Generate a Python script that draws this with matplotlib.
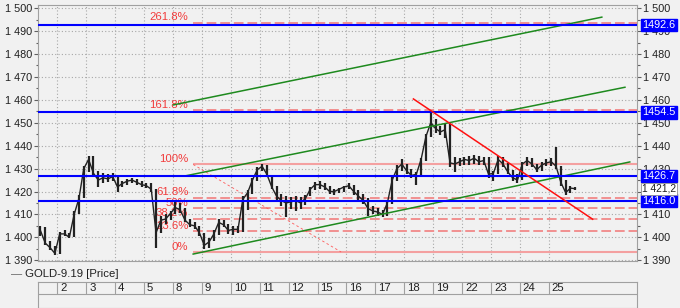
import numpy as np
import matplotlib.pyplot as plt
from matplotlib.ticker import MultipleLocator, FuncFormatter

plt.rcParams['font.family'] = ['Liberation Sans', 'DejaVu Sans']
plt.rcParams['font.size'] = 7.5

# trading days shown on the time strip (first day is only partly visible)
day_labels = ['2', '3', '4', '5', '8', '9', '10', '11', '12', '15', '16', '17',
              '18', '19', '22', '23', '24', '25']
bars_per_day = 6
first_day_bars = 4

# GOLD-9.19 price bars
bar_high = [1404.8, 1404.5, 1398.5, 1396.0, 1402.5, 1403.0, 1402.0, 1411.5, 1418.5, 1431.0,
            1435.5, 1435.5, 1429.0, 1428.0, 1427.5, 1428.0, 1427.0, 1424.5, 1425.5, 1426.0,
            1425.5, 1424.5, 1423.5, 1423.5, 1421.0, 1409.5, 1410.0, 1411.5, 1415.5, 1415.0,
            1413.0, 1408.0, 1406.5, 1405.0, 1402.0, 1399.5, 1403.0, 1408.0, 1407.5, 1406.0,
            1405.0, 1405.0, 1418.0, 1420.5, 1426.0, 1430.5, 1432.0, 1431.5, 1427.0, 1422.5,
            1419.0, 1418.0, 1417.5, 1418.0, 1417.5, 1418.5, 1422.0, 1424.0, 1424.5, 1423.5,
            1422.5, 1421.0, 1421.5, 1422.5, 1423.5, 1423.0, 1420.5, 1419.0, 1417.0, 1413.5,
            1413.0, 1412.0, 1416.0, 1426.5, 1431.5, 1434.0, 1432.0, 1430.0, 1428.5, 1434.5,
            1445.0, 1455.0, 1451.5, 1448.5, 1449.5, 1449.5, 1435.0, 1434.5, 1435.0, 1435.5,
            1436.0, 1435.5, 1435.0, 1435.0, 1429.0, 1435.5, 1435.0, 1432.5, 1429.5, 1427.5,
            1433.0, 1435.0, 1434.5, 1432.0, 1433.0, 1434.0, 1434.5, 1439.5, 1431.0, 1425.0,
            1422.5, 1422.0]
bar_low = [1400.5, 1396.5, 1394.5, 1392.4, 1392.8, 1400.5, 1399.5, 1400.0, 1410.0, 1417.0,
           1428.5, 1427.0, 1422.0, 1423.5, 1424.0, 1424.5, 1420.0, 1422.0, 1423.0, 1423.5,
           1423.0, 1422.0, 1421.5, 1420.0, 1395.5, 1402.0, 1406.0, 1407.5, 1410.0, 1410.5,
           1406.5, 1404.5, 1403.5, 1400.5, 1394.8, 1395.5, 1398.5, 1401.0, 1404.5, 1401.5,
           1401.0, 1402.0, 1402.5, 1412.0, 1419.0, 1424.5, 1429.0, 1426.5, 1421.0, 1416.5,
           1413.5, 1409.0, 1412.5, 1411.5, 1412.5, 1414.0, 1418.0, 1420.5, 1421.0, 1420.5,
           1419.0, 1418.5, 1419.5, 1420.0, 1421.0, 1418.5, 1416.0, 1414.5, 1409.5, 1410.0,
           1409.5, 1408.8, 1409.5, 1414.5, 1424.5, 1429.0, 1427.5, 1426.0, 1422.7, 1427.0,
           1433.5, 1444.0, 1445.5, 1444.5, 1443.5, 1430.5, 1428.5, 1431.0, 1431.5, 1431.5,
           1432.0, 1431.5, 1431.5, 1426.0, 1424.5, 1427.5, 1430.5, 1427.5, 1424.5, 1423.5,
           1425.0, 1431.0, 1430.5, 1428.5, 1429.0, 1431.0, 1431.0, 1430.0, 1422.5, 1418.3,
           1419.5, 1420.5]
bar_close = [1403.0, 1397.5, 1395.5, 1393.0, 1401.5, 1401.5, 1400.0, 1410.0, 1417.0, 1430.0,
             1434.0, 1428.0, 1425.0, 1426.0, 1425.5, 1426.5, 1422.0, 1423.5, 1424.5, 1425.0,
             1424.0, 1423.0, 1422.5, 1421.0, 1402.0, 1407.5, 1408.0, 1410.5, 1413.0, 1412.0,
             1407.5, 1405.5, 1405.0, 1402.0, 1396.5, 1398.0, 1401.5, 1406.5, 1405.5, 1403.0,
             1403.5, 1403.5, 1416.5, 1419.5, 1425.0, 1429.5, 1431.0, 1427.5, 1422.0, 1418.0,
             1416.0, 1415.0, 1415.5, 1416.0, 1415.0, 1417.0, 1421.0, 1423.0, 1423.0, 1422.0,
             1420.0, 1420.0, 1421.0, 1422.0, 1422.5, 1420.0, 1418.0, 1416.0, 1412.5, 1411.5,
             1411.0, 1410.0, 1415.0, 1425.0, 1430.0, 1432.0, 1429.0, 1427.0, 1427.5, 1434.0,
             1444.0, 1450.0, 1447.5, 1446.0, 1447.0, 1432.5, 1432.0, 1433.0, 1434.0, 1433.5,
             1434.5, 1433.0, 1433.5, 1427.5, 1428.0, 1434.0, 1432.0, 1428.5, 1426.0, 1425.0,
             1432.0, 1433.5, 1432.0, 1429.5, 1431.5, 1432.5, 1433.0, 1431.0, 1424.0, 1419.5,
             1421.5, 1421.2]

# horizontal support / resistance levels
blue_levels = [1492.6, 1454.5, 1426.7, 1416.0]

# fibonacci retracement (start bar, end bar, 100% price, 0% price)
fib_start, fib_end = 31.7, 62.4
fib_high, fib_low = 1431.8, 1393.6
fib_pcts = [0, 23.6, 38.2, 50, 61.8, 100, 161.8, 261.8]

# trend lines: ((bar, price), (bar, price))
green_lines = [((31.7, 1392.7), (122.3, 1432.9)),
               ((30.0, 1426.8), (121.3, 1465.5)),
               ((27.6, 1457.8), (116.5, 1496.1))]
red_line = ((77.4, 1460.4), (114.6, 1407.9))

bg = '#f1f1f1'
frame = '#a0a0a0'

fig = plt.figure(figsize=(6.8, 3.08), dpi=100, facecolor=bg)
ax = fig.add_axes([38 / 680, 47.3 / 308, 599 / 680, 255.7 / 308])
ax.set_facecolor(bg)
ax.set_xlim(-0.5, 123.8)
ax.set_ylim(1389.8, 1501.4)

day_edges = [first_day_bars - 0.5 + k * bars_per_day for k in range(len(day_labels))]
ax.set_xticks(day_edges)
ax.tick_params(axis='x', length=0, labelbottom=False)
ax.yaxis.set_major_locator(MultipleLocator(10))
ax.yaxis.set_minor_locator(MultipleLocator(5))
ax.yaxis.set_major_formatter(FuncFormatter(lambda v, p: f'{int(round(v)):,}'.replace(',', ' ')))
ax.tick_params(axis='y', which='both', left=True, right=True, labelleft=True, labelright=True,
               color='#606060', labelcolor='#202020', width=0.8, labelsize=7.8)
ax.tick_params(axis='y', which='major', length=3, pad=1)
ax.tick_params(axis='y', which='minor', length=1.8)
ax.grid(True, which='major', color='#a8a8a8', lw=0.8, linestyle=(0, (1, 2)))
for s in ax.spines.values():
    s.set_color(frame)
    s.set_linewidth(0.8)

# price bars
idx = np.arange(len(bar_close))
ax.vlines(idx, bar_low, bar_high, color='#222222', lw=1.6, zorder=3)
ax.plot(idx, bar_close, color='#222222', lw=1.0, zorder=3)

# fibonacci levels
for pct in fib_pcts:
    price = fib_low + pct / 100 * (fib_high - fib_low)
    if pct in (0, 100):
        ax.hlines(price, fib_start, 123.8, color='#f4a0a0', lw=1.5, zorder=2)
    else:
        ax.hlines(price, fib_start, 123.8, color='#f29090', lw=1.4,
                  linestyles=[(0, (5, 2))], zorder=2)
    ax.annotate(f'{pct:g}%', xy=(fib_start, price), xytext=(-3.5, 0.3),
                textcoords='offset points', ha='right', va='bottom',
                color='#f23c3c', fontsize=8.2, zorder=1.8)
ax.plot([fib_start, fib_end], [fib_high, fib_low], color='#ff5a5a', lw=0.6,
        linestyle=(0, (3, 3)), zorder=2)

# trend lines
for (x0, y0), (x1, y1) in green_lines:
    ax.plot([x0, x1], [y0, y1], color='#1e8a1e', lw=1.1, zorder=4)
ax.plot([red_line[0][0], red_line[1][0]], [red_line[0][1], red_line[1][1]],
        color='#ff1010', lw=1.1, zorder=5)

# blue levels with value tags on the right
for lvl in blue_levels:
    ax.axhline(lvl, color='#0000ff', lw=1.5, zorder=4.5)
    ax.annotate(f'{lvl:.1f}', xy=(1, lvl), xycoords=('axes fraction', 'data'),
                xytext=(4, 0), textcoords='offset points', ha='left', va='center',
                color='white', fontsize=7.8, zorder=6, annotation_clip=False,
                bbox=dict(boxstyle='square,pad=0.12', fc='#0000ff', ec='#0000ff'))

last = bar_close[-1]
ax.annotate(f'{last:,.1f}'.replace(',', ' ').replace('.', ','), xy=(1, last),
            xycoords=('axes fraction', 'data'), xytext=(3.5, 0), textcoords='offset points',
            ha='left', va='center', color='#202020', fontsize=7.4, zorder=6,
            annotation_clip=False,
            bbox=dict(boxstyle='square,pad=0.12', fc='white', ec='#909090', lw=0.6))

# legend line
fig.text(11 / 680, 1 - 274 / 308, '\u2014', color='#606060', va='center', fontsize=8)
fig.text(25 / 680, 1 - 274 / 308, 'GOLD-9.19 [Price]', color='#202020', va='center',
         fontsize=8.2)

# time strip
axd = fig.add_axes([38 / 680, 0, 599 / 680, 26 / 308])
axd.set_facecolor(bg)
axd.set_xlim(ax.get_xlim())
axd.set_ylim(0, 1)
axd.set_xticks([])
axd.set_yticks([])
for s in axd.spines.values():
    s.set_color(frame)
    s.set_linewidth(0.8)
split = 14 / 26
axd.axhline(split, color=frame, lw=0.8)
axd.vlines(day_edges, split, 1, color=frame, lw=0.8)
for x0, lab in zip(day_edges, day_labels):
    axd.text(x0 + 0.6, (split + 1) / 2, lab, ha='left', va='center', color='#202020',
             fontsize=8.2)

fig.savefig('out.png', dpi=100, facecolor=bg)
